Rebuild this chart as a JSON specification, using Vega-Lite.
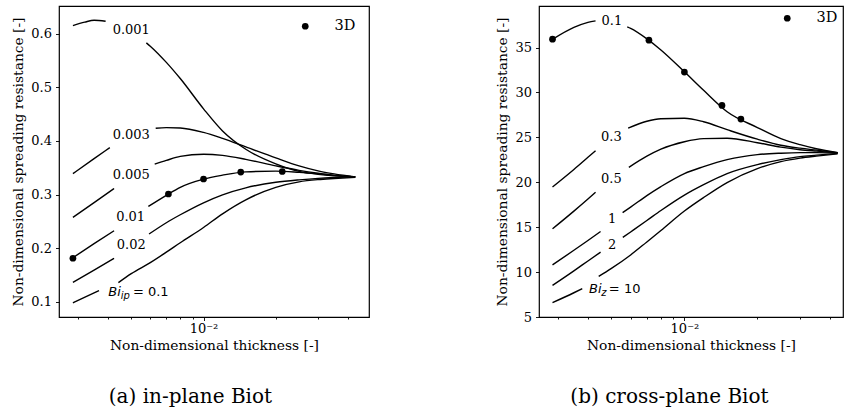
{
  "$schema": "https://vega.github.io/schema/vega-lite/v6.json",
  "background": "white",
  "padding": {"left": 11, "top": 5, "right": 0, "bottom": 0},
  "spacing": 125,
  "config": {
    "view": {"stroke": "black", "strokeWidth": 1.2},
    "font": "DejaVu Serif",
    "axis": {"domain": false, "grid": false, "tickColor": "black", "tickWidth": 0.9, "tickSize": 3.5, "labelColor": "black", "titleColor": "black", "labelFont": "DejaVu Serif", "titleFont": "DejaVu Serif", "labelFontSize": 13, "titleFontSize": 13.8, "titleFontWeight": "normal"},
    "title": {"font": "DejaVu Serif", "fontSize": 20, "fontWeight": "normal", "color": "black"},
    "legend": {"orient": "top-right", "padding": 0, "labelFont": "DejaVu Serif", "labelFontSize": 14.5, "labelColor": "black", "symbolType": "circle", "symbolSize": 45, "symbolFillColor": "black", "symbolStrokeWidth": 0, "labelOffset": 22}
  },
  "datasets": {
    "ip": [
      {"bi": "0.001", "seg": "a", "x": 0.002857, "y": 0.6153},
      {"bi": "0.001", "seg": "a", "x": 0.0032, "y": 0.6218},
      {"bi": "0.001", "seg": "a", "x": 0.0035, "y": 0.6255},
      {"bi": "0.001", "seg": "a", "x": 0.00391, "y": 0.6235},
      {"bi": "0.001", "seg": "b", "x": 0.00578, "y": 0.5832},
      {"bi": "0.001", "seg": "b", "x": 0.006, "y": 0.577},
      {"bi": "0.001", "seg": "b", "x": 0.007, "y": 0.5467},
      {"bi": "0.001", "seg": "b", "x": 0.008, "y": 0.5165},
      {"bi": "0.001", "seg": "b", "x": 0.01, "y": 0.46},
      {"bi": "0.001", "seg": "b", "x": 0.012, "y": 0.4187},
      {"bi": "0.001", "seg": "b", "x": 0.015, "y": 0.3845},
      {"bi": "0.001", "seg": "b", "x": 0.02, "y": 0.3572},
      {"bi": "0.001", "seg": "b", "x": 0.025, "y": 0.3432},
      {"bi": "0.001", "seg": "b", "x": 0.03, "y": 0.3377},
      {"bi": "0.001", "seg": "b", "x": 0.035, "y": 0.3349},
      {"bi": "0.001", "seg": "b", "x": 0.04286, "y": 0.333},
      {"bi": "0.003", "seg": "a", "x": 0.002857, "y": 0.339},
      {"bi": "0.003", "seg": "a", "x": 0.0035, "y": 0.3669},
      {"bi": "0.003", "seg": "a", "x": 0.00407, "y": 0.3876},
      {"bi": "0.003", "seg": "b", "x": 0.00632, "y": 0.4237},
      {"bi": "0.003", "seg": "b", "x": 0.007, "y": 0.4249},
      {"bi": "0.003", "seg": "b", "x": 0.008, "y": 0.4243},
      {"bi": "0.003", "seg": "b", "x": 0.01, "y": 0.4159},
      {"bi": "0.003", "seg": "b", "x": 0.012, "y": 0.4047},
      {"bi": "0.003", "seg": "b", "x": 0.015, "y": 0.3889},
      {"bi": "0.003", "seg": "b", "x": 0.02, "y": 0.3684},
      {"bi": "0.003", "seg": "b", "x": 0.025, "y": 0.3535},
      {"bi": "0.003", "seg": "b", "x": 0.03, "y": 0.3442},
      {"bi": "0.003", "seg": "b", "x": 0.035, "y": 0.3386},
      {"bi": "0.003", "seg": "b", "x": 0.04286, "y": 0.333},
      {"bi": "0.005", "seg": "a", "x": 0.002857, "y": 0.2572},
      {"bi": "0.005", "seg": "a", "x": 0.0035, "y": 0.2849},
      {"bi": "0.005", "seg": "a", "x": 0.00424, "y": 0.3112},
      {"bi": "0.005", "seg": "b", "x": 0.00626, "y": 0.3567},
      {"bi": "0.005", "seg": "b", "x": 0.007, "y": 0.3637},
      {"bi": "0.005", "seg": "b", "x": 0.008, "y": 0.3712},
      {"bi": "0.005", "seg": "b", "x": 0.01, "y": 0.3753},
      {"bi": "0.005", "seg": "b", "x": 0.012, "y": 0.3731},
      {"bi": "0.005", "seg": "b", "x": 0.015, "y": 0.3656},
      {"bi": "0.005", "seg": "b", "x": 0.02, "y": 0.3535},
      {"bi": "0.005", "seg": "b", "x": 0.025, "y": 0.3451},
      {"bi": "0.005", "seg": "b", "x": 0.03, "y": 0.3396},
      {"bi": "0.005", "seg": "b", "x": 0.035, "y": 0.3358},
      {"bi": "0.005", "seg": "b", "x": 0.04286, "y": 0.333},
      {"bi": "0.01", "seg": "a", "x": 0.002857, "y": 0.182},
      {"bi": "0.01", "seg": "a", "x": 0.0035, "y": 0.2082},
      {"bi": "0.01", "seg": "a", "x": 0.00424, "y": 0.2324},
      {"bi": "0.01", "seg": "b", "x": 0.00589, "y": 0.2777},
      {"bi": "0.01", "seg": "b", "x": 0.007, "y": 0.2985},
      {"bi": "0.01", "seg": "b", "x": 0.008, "y": 0.3134},
      {"bi": "0.01", "seg": "b", "x": 0.01, "y": 0.3287},
      {"bi": "0.01", "seg": "b", "x": 0.012, "y": 0.3361},
      {"bi": "0.01", "seg": "b", "x": 0.015, "y": 0.3423},
      {"bi": "0.01", "seg": "b", "x": 0.02, "y": 0.3437},
      {"bi": "0.01", "seg": "b", "x": 0.025, "y": 0.3414},
      {"bi": "0.01", "seg": "b", "x": 0.03, "y": 0.3386},
      {"bi": "0.01", "seg": "b", "x": 0.035, "y": 0.3358},
      {"bi": "0.01", "seg": "b", "x": 0.04286, "y": 0.333},
      {"bi": "0.02", "seg": "a", "x": 0.002857, "y": 0.136},
      {"bi": "0.02", "seg": "a", "x": 0.0035, "y": 0.159},
      {"bi": "0.02", "seg": "a", "x": 0.00424, "y": 0.1808},
      {"bi": "0.02", "seg": "b", "x": 0.00593, "y": 0.2262},
      {"bi": "0.02", "seg": "b", "x": 0.007, "y": 0.2473},
      {"bi": "0.02", "seg": "b", "x": 0.008, "y": 0.2622},
      {"bi": "0.02", "seg": "b", "x": 0.01, "y": 0.2846},
      {"bi": "0.02", "seg": "b", "x": 0.012, "y": 0.2995},
      {"bi": "0.02", "seg": "b", "x": 0.015, "y": 0.3125},
      {"bi": "0.02", "seg": "b", "x": 0.02, "y": 0.3228},
      {"bi": "0.02", "seg": "b", "x": 0.025, "y": 0.3274},
      {"bi": "0.02", "seg": "b", "x": 0.03, "y": 0.3302},
      {"bi": "0.02", "seg": "b", "x": 0.035, "y": 0.3317},
      {"bi": "0.02", "seg": "b", "x": 0.04286, "y": 0.333},
      {"bi": "0.1", "seg": "a", "x": 0.002857, "y": 0.0977},
      {"bi": "0.1", "seg": "a", "x": 0.0035, "y": 0.1163},
      {"bi": "0.1", "seg": "a", "x": 0.00367, "y": 0.1206},
      {"bi": "0.1", "seg": "b", "x": 0.00442, "y": 0.1355},
      {"bi": "0.1", "seg": "b", "x": 0.005, "y": 0.1523},
      {"bi": "0.1", "seg": "b", "x": 0.006, "y": 0.1728},
      {"bi": "0.1", "seg": "b", "x": 0.007, "y": 0.1923},
      {"bi": "0.1", "seg": "b", "x": 0.008, "y": 0.21},
      {"bi": "0.1", "seg": "b", "x": 0.01, "y": 0.2385},
      {"bi": "0.1", "seg": "b", "x": 0.012, "y": 0.264},
      {"bi": "0.1", "seg": "b", "x": 0.015, "y": 0.2901},
      {"bi": "0.1", "seg": "b", "x": 0.02, "y": 0.3134},
      {"bi": "0.1", "seg": "b", "x": 0.025, "y": 0.3237},
      {"bi": "0.1", "seg": "b", "x": 0.03, "y": 0.3278},
      {"bi": "0.1", "seg": "b", "x": 0.035, "y": 0.3298},
      {"bi": "0.1", "seg": "b", "x": 0.04286, "y": 0.332}
    ],
    "ip3d": [
      {"src": "3D", "x": 0.002857, "y": 0.181},
      {"src": "3D", "x": 0.00714, "y": 0.301},
      {"src": "3D", "x": 0.01, "y": 0.329},
      {"src": "3D", "x": 0.01429, "y": 0.342},
      {"src": "3D", "x": 0.02128, "y": 0.343}
    ],
    "iplab": [
      {"part": "num", "t": "0.001", "x": 0.005, "y": 0.6063},
      {"part": "num", "t": "0.003", "x": 0.005, "y": 0.4113},
      {"part": "num", "t": "0.005", "x": 0.005, "y": 0.3362},
      {"part": "num", "t": "0.01", "x": 0.00497, "y": 0.2572},
      {"part": "num", "t": "0.02", "x": 0.005, "y": 0.2057},
      {"part": "bi", "t": "Bi", "x": 0.00401, "y": 0.1174},
      {"part": "sub", "t": "ip", "x": 0.00452, "y": 0.1174},
      {"part": "eq", "t": "= 0.1", "x": 0.00508, "y": 0.1174}
    ],
    "cp": [
      {"bi": "0.1", "seg": "a", "x": 0.002857, "y": 35.91},
      {"bi": "0.1", "seg": "a", "x": 0.0035, "y": 37.24},
      {"bi": "0.1", "seg": "a", "x": 0.004, "y": 37.8},
      {"bi": "0.1", "seg": "a", "x": 0.0043, "y": 37.97},
      {"bi": "0.1", "seg": "b", "x": 0.00581, "y": 37.3},
      {"bi": "0.1", "seg": "b", "x": 0.006, "y": 37.13},
      {"bi": "0.1", "seg": "b", "x": 0.007, "y": 35.97},
      {"bi": "0.1", "seg": "b", "x": 0.008, "y": 34.74},
      {"bi": "0.1", "seg": "b", "x": 0.01, "y": 32.3},
      {"bi": "0.1", "seg": "b", "x": 0.012, "y": 30.24},
      {"bi": "0.1", "seg": "b", "x": 0.015, "y": 27.86},
      {"bi": "0.1", "seg": "b", "x": 0.02, "y": 26.1},
      {"bi": "0.1", "seg": "b", "x": 0.025, "y": 24.86},
      {"bi": "0.1", "seg": "b", "x": 0.03, "y": 24.19},
      {"bi": "0.1", "seg": "b", "x": 0.035, "y": 23.74},
      {"bi": "0.1", "seg": "b", "x": 0.04286, "y": 23.3},
      {"bi": "0.3", "seg": "a", "x": 0.002857, "y": 19.47},
      {"bi": "0.3", "seg": "a", "x": 0.0035, "y": 21.42},
      {"bi": "0.3", "seg": "a", "x": 0.004, "y": 22.78},
      {"bi": "0.3", "seg": "a", "x": 0.0043, "y": 23.52},
      {"bi": "0.3", "seg": "b", "x": 0.00586, "y": 26.02},
      {"bi": "0.3", "seg": "b", "x": 0.007, "y": 26.8},
      {"bi": "0.3", "seg": "b", "x": 0.008, "y": 27.08},
      {"bi": "0.3", "seg": "b", "x": 0.01, "y": 27.13},
      {"bi": "0.3", "seg": "b", "x": 0.012, "y": 26.74},
      {"bi": "0.3", "seg": "b", "x": 0.015, "y": 25.86},
      {"bi": "0.3", "seg": "b", "x": 0.02, "y": 24.8},
      {"bi": "0.3", "seg": "b", "x": 0.025, "y": 24.13},
      {"bi": "0.3", "seg": "b", "x": 0.03, "y": 23.8},
      {"bi": "0.3", "seg": "b", "x": 0.035, "y": 23.58},
      {"bi": "0.3", "seg": "b", "x": 0.04286, "y": 23.3},
      {"bi": "0.5", "seg": "a", "x": 0.002857, "y": 14.82},
      {"bi": "0.5", "seg": "a", "x": 0.0035, "y": 16.79},
      {"bi": "0.5", "seg": "a", "x": 0.004, "y": 18.14},
      {"bi": "0.5", "seg": "a", "x": 0.0043, "y": 18.89},
      {"bi": "0.5", "seg": "b", "x": 0.0059, "y": 21.67},
      {"bi": "0.5", "seg": "b", "x": 0.007, "y": 22.91},
      {"bi": "0.5", "seg": "b", "x": 0.008, "y": 23.69},
      {"bi": "0.5", "seg": "b", "x": 0.01, "y": 24.52},
      {"bi": "0.5", "seg": "b", "x": 0.012, "y": 24.86},
      {"bi": "0.5", "seg": "b", "x": 0.015, "y": 24.91},
      {"bi": "0.5", "seg": "b", "x": 0.02, "y": 24.41},
      {"bi": "0.5", "seg": "b", "x": 0.025, "y": 23.91},
      {"bi": "0.5", "seg": "b", "x": 0.03, "y": 23.63},
      {"bi": "0.5", "seg": "b", "x": 0.035, "y": 23.47},
      {"bi": "0.5", "seg": "b", "x": 0.04286, "y": 23.28},
      {"bi": "1", "seg": "a", "x": 0.002857, "y": 10.8},
      {"bi": "1", "seg": "a", "x": 0.0035, "y": 12.43},
      {"bi": "1", "seg": "a", "x": 0.004, "y": 13.52},
      {"bi": "1", "seg": "a", "x": 0.00451, "y": 14.52},
      {"bi": "1", "seg": "b", "x": 0.00556, "y": 16.63},
      {"bi": "1", "seg": "b", "x": 0.006, "y": 17.24},
      {"bi": "1", "seg": "b", "x": 0.007, "y": 18.52},
      {"bi": "1", "seg": "b", "x": 0.008, "y": 19.52},
      {"bi": "1", "seg": "b", "x": 0.01, "y": 20.97},
      {"bi": "1", "seg": "b", "x": 0.012, "y": 21.74},
      {"bi": "1", "seg": "b", "x": 0.015, "y": 22.52},
      {"bi": "1", "seg": "b", "x": 0.02, "y": 23.08},
      {"bi": "1", "seg": "b", "x": 0.025, "y": 23.24},
      {"bi": "1", "seg": "b", "x": 0.03, "y": 23.3},
      {"bi": "1", "seg": "b", "x": 0.035, "y": 23.3},
      {"bi": "1", "seg": "b", "x": 0.04286, "y": 23.27},
      {"bi": "2", "seg": "a", "x": 0.002857, "y": 8.52},
      {"bi": "2", "seg": "a", "x": 0.0035, "y": 10.14},
      {"bi": "2", "seg": "a", "x": 0.004, "y": 11.24},
      {"bi": "2", "seg": "a", "x": 0.00451, "y": 12.22},
      {"bi": "2", "seg": "b", "x": 0.00557, "y": 13.86},
      {"bi": "2", "seg": "b", "x": 0.006, "y": 14.47},
      {"bi": "2", "seg": "b", "x": 0.007, "y": 15.74},
      {"bi": "2", "seg": "b", "x": 0.008, "y": 16.86},
      {"bi": "2", "seg": "b", "x": 0.01, "y": 18.58},
      {"bi": "2", "seg": "b", "x": 0.012, "y": 19.74},
      {"bi": "2", "seg": "b", "x": 0.015, "y": 20.97},
      {"bi": "2", "seg": "b", "x": 0.02, "y": 21.97},
      {"bi": "2", "seg": "b", "x": 0.025, "y": 22.52},
      {"bi": "2", "seg": "b", "x": 0.03, "y": 22.86},
      {"bi": "2", "seg": "b", "x": 0.035, "y": 23.02},
      {"bi": "2", "seg": "b", "x": 0.04286, "y": 23.22},
      {"bi": "10", "seg": "a", "x": 0.002857, "y": 6.6},
      {"bi": "10", "seg": "a", "x": 0.0035, "y": 7.7},
      {"bi": "10", "seg": "a", "x": 0.00379, "y": 8.16},
      {"bi": "10", "seg": "b", "x": 0.00443, "y": 9.52},
      {"bi": "10", "seg": "b", "x": 0.005, "y": 10.41},
      {"bi": "10", "seg": "b", "x": 0.006, "y": 11.91},
      {"bi": "10", "seg": "b", "x": 0.007, "y": 13.36},
      {"bi": "10", "seg": "b", "x": 0.008, "y": 14.63},
      {"bi": "10", "seg": "b", "x": 0.01, "y": 16.8},
      {"bi": "10", "seg": "b", "x": 0.012, "y": 18.3},
      {"bi": "10", "seg": "b", "x": 0.015, "y": 19.97},
      {"bi": "10", "seg": "b", "x": 0.02, "y": 21.52},
      {"bi": "10", "seg": "b", "x": 0.025, "y": 22.3},
      {"bi": "10", "seg": "b", "x": 0.03, "y": 22.69},
      {"bi": "10", "seg": "b", "x": 0.035, "y": 22.91},
      {"bi": "10", "seg": "b", "x": 0.04286, "y": 23.16}
    ],
    "cp3d": [
      {"src": "3D", "x": 0.002857, "y": 35.93},
      {"src": "3D", "x": 0.00714, "y": 35.82},
      {"src": "3D", "x": 0.01, "y": 32.27},
      {"src": "3D", "x": 0.01429, "y": 28.56},
      {"src": "3D", "x": 0.0171, "y": 27.04}
    ],
    "cplab": [
      {"part": "num", "t": "0.1", "x": 0.00502, "y": 37.97},
      {"part": "num", "t": "0.3", "x": 0.005, "y": 25.0},
      {"part": "num", "t": "0.5", "x": 0.005, "y": 20.38},
      {"part": "num", "t": "1", "x": 0.00503, "y": 15.93},
      {"part": "num", "t": "2", "x": 0.00503, "y": 13.04},
      {"part": "bi", "t": "Bi", "x": 0.00404, "y": 8.16},
      {"part": "sub", "t": "z", "x": 0.00454, "y": 8.16},
      {"part": "eq", "t": "= 10", "x": 0.00488, "y": 8.16}
    ]
  },
  "hconcat": [
    {
      "width": 310,
      "height": 311,
      "title": {"text": "(a) in-plane Biot", "orient": "bottom", "offset": 35, "anchor": "middle", "frame": "bounds"},
      "encoding": {
        "x": {"field": "x", "type": "quantitative", "title": "Non-dimensional thickness [-]",
          "scale": {"type": "log", "domain": [0.0025, 0.0489], "nice": false},
          "axis": {"values": [0.003, 0.004, 0.005, 0.006, 0.007, 0.008, 0.009, 0.01, 0.02, 0.03, 0.04],
            "labelExpr": "abs(datum.value - 0.01) < 1e-9 ? '10⁻²' : ''",
            "tickSize": {"condition": {"test": "abs(datum.value - 0.01) < 1e-9", "value": 3.5}, "value": 2},
            "labelPadding": 2, "titlePadding": 3, "labelFlush": false, "labelOverlap": false}},
        "y": {"field": "y", "type": "quantitative", "title": "Non-dimensional spreading resistance [-]",
          "scale": {"domain": [0.0713, 0.652], "nice": false, "zero": false},
          "axis": {"values": [0.1, 0.2, 0.3, 0.4, 0.5, 0.6], "format": ".1f", "labelPadding": 4, "titlePadding": 5}}
      },
      "layer": [
        {"data": {"name": "ip"}, "mark": {"type": "line", "color": "black", "strokeWidth": 1.4, "interpolate": "monotone"},
          "encoding": {"detail": [{"field": "bi"}, {"field": "seg"}], "order": {"field": "x", "type": "quantitative"}}},
        {"data": {"name": "ip3d"}, "mark": {"type": "point", "filled": true, "size": 45, "opacity": 1},
          "encoding": {"color": {"field": "src", "type": "nominal", "scale": {"range": ["black"]}, "legend": {"title": null, "offset": 13}}}},
        {"data": {"name": "iplab"}, "transform": [{"filter": "datum.part == 'num'"}],
          "mark": {"type": "text", "font": "DejaVu Serif", "fontSize": 13, "align": "center", "baseline": "middle", "color": "black"},
          "encoding": {"text": {"field": "t"}}},
        {"data": {"name": "iplab"}, "transform": [{"filter": "datum.part == 'bi'"}],
          "mark": {"type": "text", "font": "DejaVu Sans", "fontStyle": "italic", "fontSize": 13, "align": "left", "baseline": "middle", "color": "black"},
          "encoding": {"text": {"field": "t"}}},
        {"data": {"name": "iplab"}, "transform": [{"filter": "datum.part == 'sub'"}],
          "mark": {"type": "text", "font": "DejaVu Sans", "fontStyle": "italic", "fontSize": 10, "align": "left", "baseline": "middle", "dy": 4, "color": "black"},
          "encoding": {"text": {"field": "t"}}},
        {"data": {"name": "iplab"}, "transform": [{"filter": "datum.part == 'eq'"}],
          "mark": {"type": "text", "font": "DejaVu Sans", "fontSize": 13, "align": "left", "baseline": "middle", "color": "black"},
          "encoding": {"text": {"field": "t"}}}
      ]
    },
    {
      "width": 304,
      "height": 311,
      "title": {"text": "(b) cross-plane Biot", "orient": "bottom", "offset": 35, "anchor": "middle", "frame": "bounds"},
      "encoding": {
        "x": {"field": "x", "type": "quantitative", "title": "Non-dimensional thickness [-]",
          "scale": {"type": "log", "domain": [0.002513, 0.0451], "nice": false},
          "axis": {"values": [0.003, 0.004, 0.005, 0.006, 0.007, 0.008, 0.009, 0.01, 0.02, 0.03, 0.04],
            "labelExpr": "abs(datum.value - 0.01) < 1e-9 ? '10⁻²' : ''",
            "tickSize": {"condition": {"test": "abs(datum.value - 0.01) < 1e-9", "value": 3.5}, "value": 2},
            "labelPadding": 2, "titlePadding": 3, "labelFlush": false, "labelOverlap": false}},
        "y": {"field": "y", "type": "quantitative", "title": "Non-dimensional spreading resistance [-]",
          "scale": {"domain": [5, 39.63], "nice": false, "zero": false},
          "axis": {"values": [5, 10, 15, 20, 25, 30, 35], "format": "d", "labelPadding": 4, "titlePadding": 5}}
      },
      "layer": [
        {"data": {"name": "cp"}, "mark": {"type": "line", "color": "black", "strokeWidth": 1.4, "interpolate": "monotone"},
          "encoding": {"detail": [{"field": "bi"}, {"field": "seg"}], "order": {"field": "x", "type": "quantitative"}}},
        {"data": {"name": "cp3d"}, "mark": {"type": "point", "filled": true, "size": 45, "opacity": 1},
          "encoding": {"color": {"field": "src", "type": "nominal", "scale": {"range": ["black"]}, "legend": {"title": null, "offset": 5}}}},
        {"data": {"name": "cplab"}, "transform": [{"filter": "datum.part == 'num'"}],
          "mark": {"type": "text", "font": "DejaVu Serif", "fontSize": 13, "align": "center", "baseline": "middle", "color": "black"},
          "encoding": {"text": {"field": "t"}}},
        {"data": {"name": "cplab"}, "transform": [{"filter": "datum.part == 'bi'"}],
          "mark": {"type": "text", "font": "DejaVu Sans", "fontStyle": "italic", "fontSize": 13, "align": "left", "baseline": "middle", "color": "black"},
          "encoding": {"text": {"field": "t"}}},
        {"data": {"name": "cplab"}, "transform": [{"filter": "datum.part == 'sub'"}],
          "mark": {"type": "text", "font": "DejaVu Sans", "fontStyle": "italic", "fontSize": 10, "align": "left", "baseline": "middle", "dy": 4, "color": "black"},
          "encoding": {"text": {"field": "t"}}},
        {"data": {"name": "cplab"}, "transform": [{"filter": "datum.part == 'eq'"}],
          "mark": {"type": "text", "font": "DejaVu Sans", "fontSize": 13, "align": "left", "baseline": "middle", "color": "black"},
          "encoding": {"text": {"field": "t"}}}
      ]
    }
  ],
  "resolve": {"scale": {"x": "independent", "y": "independent", "color": "independent"}, "legend": {"color": "independent"}}
}
